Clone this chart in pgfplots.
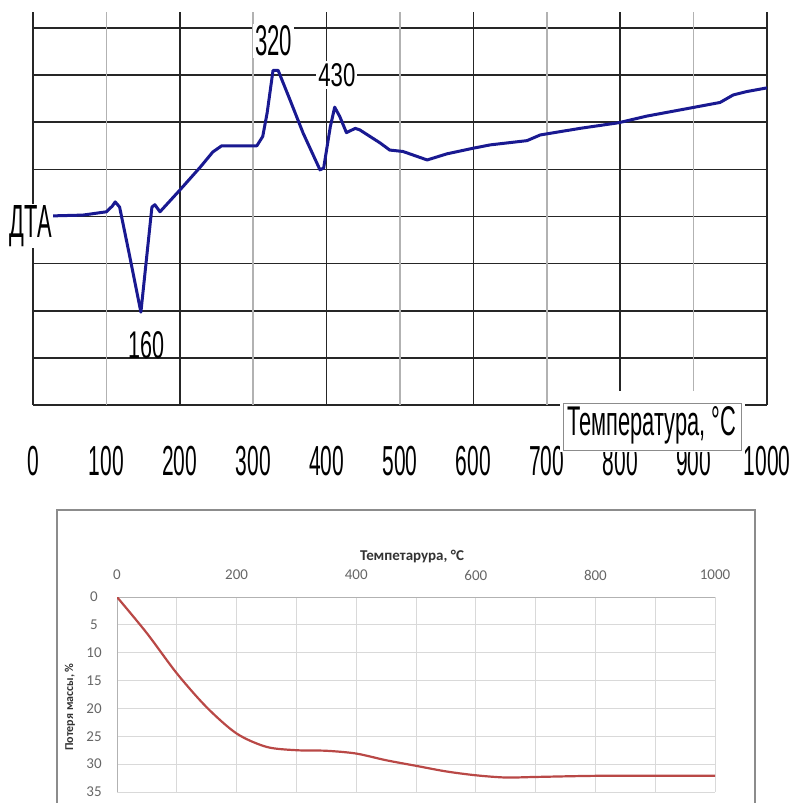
\documentclass[border=0pt]{standalone}
\usepackage{fontspec}
\setmainfont{Liberation Sans}
\newfontfamily\calib{Carlito}
\usepackage{graphicx}
\usepackage{pgfplots}
\pgfplotsset{compat=1.18}

\definecolor{dtablue}{RGB}{25,25,145}
\definecolor{tgred}{RGB}{185,72,70}
\newcommand{\tall}[1]{\scalebox{1}[2.0]{\fontsize{21}{21}\selectfont #1}}

\begin{document}
\begin{tikzpicture}
\path[use as bounding box] (0pt,0pt) rectangle (794pt,803pt);

% DTA curve
\begin{axis}[
  at={(400pt,594.5pt)}, anchor=center,
  scale only axis, width=734pt, height=393pt,
  xmin=0, xmax=1000, ymin=0, ymax=8.34,
  axis line style={draw=none},
  major tick length=0pt,
  xtick={0,200,...,1000},
  xticklabels={\tall{0},\tall{200},\tall{400},\tall{600},\tall{800},\tall{1000}},
  extra x ticks={100,300,500,700,900},
  extra x tick labels={\tall{100},\tall{300},\tall{500},\tall{700},\tall{900}},
  extra x tick style={major grid style={black!30, line width=1.6pt}},
  xticklabel style={anchor=center, yshift=-56pt},
  ytick={0,...,8}, yticklabels={},
  xmajorgrids, ymajorgrids,
  major grid style={black!85, line width=1.6pt},
  clip=false,
]
\addplot[dtablue, line width=3pt, line join=round] coordinates {
 (0,4.0) (19,4.01) (68,4.03) (100,4.1) (108,4.22) (112,4.31) (118,4.2)
 (130,3.29) (147,1.97) (162,4.2) (166,4.25) (173,4.1) (200,4.56) (228,5.05)
 (245,5.37) (257,5.5) (305,5.5) (313,5.7) (319,6.2) (327,7.1) (334,7.1)
 (350,6.48) (368,5.77) (391,4.99) (396,5.03) (405,5.9) (411,6.32) (418,6.12)
 (427,5.78) (439,5.87) (445,5.84) (473,5.56) (486,5.41) (504,5.38) (537,5.2)
 (564,5.33) (600,5.45) (623,5.52) (673,5.61) (691,5.73) (745,5.87) (798,5.99)
 (836,6.13) (881,6.26) (936,6.42) (954,6.58) (972,6.65) (1000,6.73)
};
\node[fill=white, inner sep=2pt] at (axis cs:328,7.73) {\resizebox{37pt}{30pt}{320}};
\node[fill=white, inner sep=2pt] at (axis cs:414,7.0) {\resizebox{37pt}{23pt}{430}};
\node[inner sep=0pt] at (axis cs:154,1.27) {\resizebox{36pt}{27pt}{160}};
\node[fill=white, inner sep=1pt] at (axis cs:-3,3.8) {\resizebox{42pt}{32pt}{ДТА}};
\end{axis}

% axis title box
\fill[white] (560pt,351pt) rectangle (745pt,412pt);
\draw[black!45, line width=0.8pt] (563pt,353pt) rectangle (741pt,400pt);
\node at (652pt,378pt) {\resizebox{169pt}{29pt}{Температура, °C}};

% TG chart frame
\draw[black!45, line width=1.5pt] (57pt,-10pt) -- (57pt,293pt) -- (755pt,293pt) -- (755pt,-10pt);

\begin{axis}[
  at={(416pt,108.5pt)}, anchor=center,
  scale only axis, width=598pt, height=195pt,
  xmin=0, xmax=1000, ymin=0, ymax=35,
  y dir=reverse,
  axis x line*=top, axis y line*=left,
  axis line style={black!30, line width=1pt},
  xtick={0,200,...,1000}, minor xtick={100,300,...,900},
  ytick={0,5,...,35},
  grid=both, grid style={black!15, line width=0.9pt},
  major tick length=0pt, minor tick length=0pt,
  /pgf/number format/assume math mode=true,
  /pgf/number format/1000 sep={},
  tick label style={font=\calib\fontsize{15}{15}\selectfont, text=black!60},
  xticklabel style={anchor=center, yshift=22pt},
  yticklabel style={anchor=center, xshift=-23pt},
]
\addplot[tgred, line width=2.2pt, smooth] coordinates {
 (0,0) (50,6.5) (100,13.7) (150,19.8) (200,24.5) (250,26.9) (300,27.5)
 (350,27.6) (400,28.1) (450,29.3) (500,30.3) (550,31.3) (600,32.0)
 (650,32.4) (700,32.3) (800,32.1) (900,32.1) (1000,32.1)
};
\end{axis}

\node[font=\calib\bfseries\fontsize{15}{15}\selectfont, text=black!80] at (412pt,246pt) {Темпетарура, °C};
\node[font=\calib\bfseries\fontsize{12}{12}\selectfont, text=black!80, rotate=90] at (70pt,96pt) {Потеря массы, \%};
\end{tikzpicture}
\end{document}
